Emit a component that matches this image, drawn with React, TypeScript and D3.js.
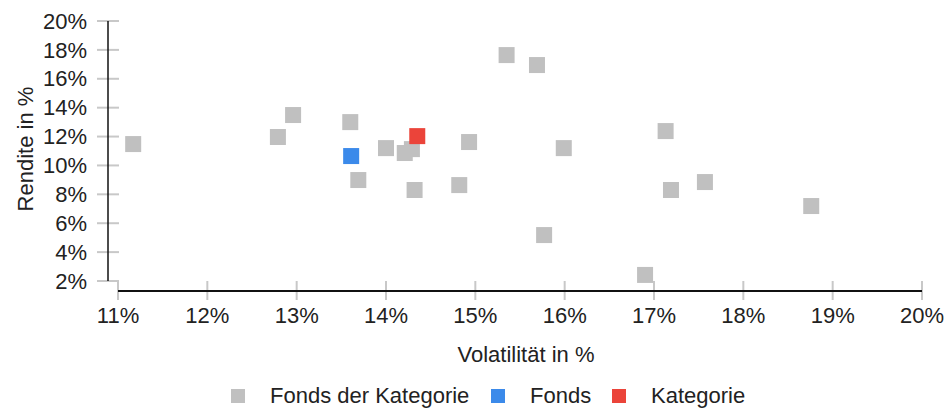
import * as d3 from 'd3';

// Volatilität (x) / Rendite (y), both in %
const categoryVol = [11.17, 12.79, 12.96, 13.6, 13.69, 14.0, 14.21, 14.29, 14.32, 14.82, 14.93, 15.35, 15.69, 15.99, 15.77, 17.13, 17.19, 17.57, 18.76, 16.9];
const categoryRet = [11.48, 11.97, 13.49, 13.0, 8.99, 11.2, 10.86, 11.13, 8.3, 8.64, 11.62, 17.64, 16.95, 11.2, 5.18, 12.38, 8.3, 8.85, 7.19, 2.42];
const fondsVol = [13.61];
const fondsRet = [10.65];
const kategorieVol = [14.35];
const kategorieRet = [12.03];

const xTicks = [11, 12, 13, 14, 15, 16, 17, 18, 19, 20];
const yTicks = [2, 4, 6, 8, 10, 12, 14, 16, 18, 20];

const legendItems = [
  { label: 'Fonds der Kategorie', color: '#c0c0c0' },
  { label: 'Fonds', color: '#3b8aea' },
  { label: 'Kategorie', color: '#eb443a' },
];

const W = 946;
const H = 408;
const FONT = '"Liberation Sans", Arial, sans-serif';
const FS = 22;

export default function App() {
  const x = d3.scaleLinear().domain([11, 20]).range([118, 922]);
  const y = d3.scaleLinear().domain([2, 20]).range([281, 21]);
  const axisY = 291; // x axis sits below the plot
  const axisX = 108; // y axis sits left of the plot
  const size = 16;

  const series = [
    { vol: categoryVol, ret: categoryRet, color: legendItems[0].color },
    { vol: fondsVol, ret: fondsRet, color: legendItems[1].color },
    { vol: kategorieVol, ret: kategorieRet, color: legendItems[2].color },
  ];

  // legend positions: square + label, laid out left to right
  const legendX = [231, 491, 612];

  return (
    <svg
      width={W}
      height={H}
      style={{ position: 'absolute', left: 0, top: 0, background: '#fff' }}
      fontFamily={FONT}
    >
      {/* y axis */}
      {yTicks.map((t) => (
        <g key={'y' + t}>
          <line x1={axisX - 11} x2={axisX + 11} y1={y(t)} y2={y(t)} stroke="#c8c8c8" strokeWidth={2} />
          <text x={87} y={y(t)} dy="0.35em" textAnchor="end" fontSize={FS} fill="#222">
            {d3.format('d')(t)}%
          </text>
        </g>
      ))}
      <line x1={axisX} x2={axisX} y1={y(20)} y2={y(2)} stroke="#111" strokeWidth={1.5} />

      {/* x axis */}
      {xTicks.map((t) => (
        <g key={'x' + t}>
          <line x1={x(t)} x2={x(t)} y1={axisY - 10} y2={axisY + 9} stroke="#c8c8c8" strokeWidth={2} />
          <text x={x(t)} y={323} textAnchor="middle" fontSize={FS} fill="#222">
            {t}%
          </text>
        </g>
      ))}
      <line x1={x(11)} x2={x(20)} y1={axisY} y2={axisY} stroke="#111" strokeWidth={2} />

      {/* axis titles */}
      <text x={526} y={362} textAnchor="middle" fontSize={FS} fill="#222">
        Volatilität in %
      </text>
      <text
        transform={`translate(33,149) rotate(-90)`}
        textAnchor="middle"
        fontSize={FS}
        fill="#222"
      >
        Rendite in %
      </text>

      {/* points */}
      {series.map((s, si) =>
        s.vol.map((v, i) => (
          <rect
            key={si + '-' + i}
            x={x(v) - size / 2}
            y={y(s.ret[i]) - size / 2}
            width={size}
            height={size}
            fill={s.color}
          />
        ))
      )}

      {/* legend */}
      {legendItems.map((item, i) => (
        <g key={item.label} transform={`translate(${legendX[i]},389)`}>
          <rect width={14} height={14} fill={item.color} />
          <text x={39} y={14} fontSize={FS} fill="#222">
            {item.label}
          </text>
        </g>
      ))}
    </svg>
  );
}
